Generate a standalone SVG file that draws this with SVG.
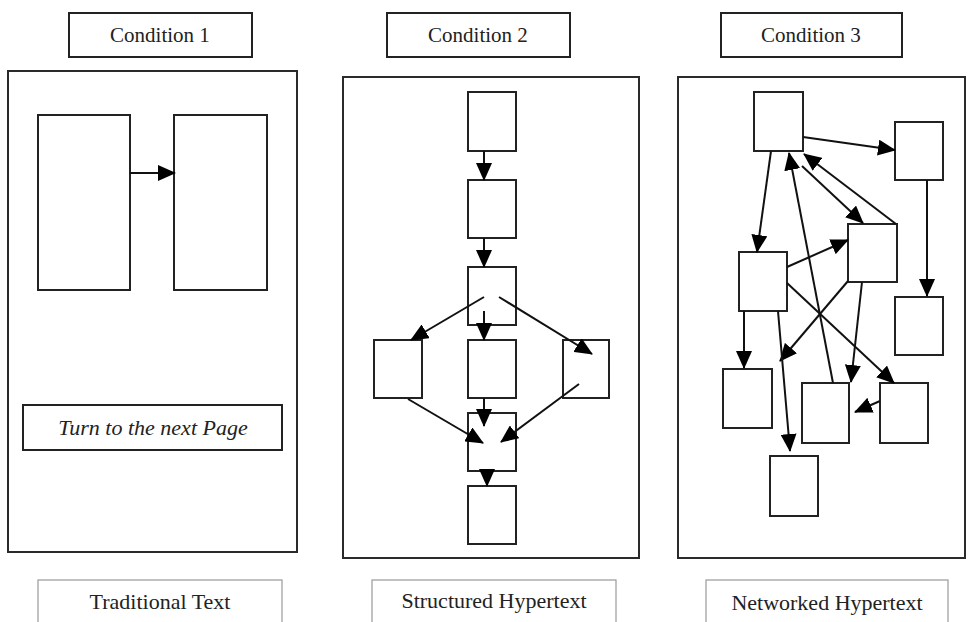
<svg xmlns="http://www.w3.org/2000/svg" width="968" height="622" viewBox="0 0 968 622">
<style>
.frame{fill:#fff;stroke:#2a2a2a;stroke-width:2}
.box{fill:#fff;stroke:#222;stroke-width:2}
.lbl{fill:#fff;stroke:#999;stroke-width:1.2}
.t{font-family:"Liberation Serif","Times New Roman",serif;font-size:21px;fill:#222;text-anchor:middle}
.t2{font-family:"Liberation Serif","Times New Roman",serif;font-size:22px;fill:#222;text-anchor:middle}
.it{font-style:italic}
.c line{stroke:#111;stroke-width:2;marker-end:url(#ah)}
</style>
<defs>
<marker id="ah" markerUnits="userSpaceOnUse" markerWidth="18" markerHeight="16" refX="17" refY="8" orient="auto">
<path d="M0,0 L18,8 L0,16 z" fill="#000"/>
</marker>
</defs>
<rect width="968" height="622" fill="#fff"/>

<g id="cond1"><rect class="box" x="69" y="13" width="183" height="44"/><text class="t" x="160" y="42">Condition 1</text></g>
<g id="cond2"><rect class="box" x="387" y="13" width="183" height="44"/><text class="t" x="478" y="42">Condition 2</text></g>
<g id="cond3"><rect class="box" x="721" y="13" width="181" height="44"/><text class="t" x="811" y="42">Condition 3</text></g>

<g id="panel1"><rect class="frame" x="8" y="71" width="289" height="481"/></g>
<g id="panel2"><rect class="frame" x="343" y="77" width="296" height="481"/></g>
<g id="panel3"><rect class="frame" x="678" y="77" width="287" height="481"/></g>

<g id="p1-left"><rect class="box" x="38" y="115" width="92" height="175"/></g>
<g id="p1-right"><rect class="box" x="174" y="115" width="93" height="175"/></g>
<g id="p1-turn"><rect class="box" x="23" y="405" width="259" height="45"/><text class="t2 it" x="153" y="435">Turn to the next Page</text></g>

<g id="p2-n1"><rect class="box" x="468" y="92" width="48" height="59"/></g>
<g id="p2-n2"><rect class="box" x="468" y="180" width="48" height="58"/></g>
<g id="p2-n3"><rect class="box" x="468" y="267" width="48" height="58"/></g>
<g id="p2-left"><rect class="box" x="374" y="340" width="48" height="58"/></g>
<g id="p2-mid"><rect class="box" x="468" y="340" width="48" height="58"/></g>
<g id="p2-right"><rect class="box" x="563" y="340" width="46" height="58"/></g>
<g id="p2-n5"><rect class="box" x="468" y="413" width="48" height="58"/></g>
<g id="p2-n6"><rect class="box" x="468" y="486" width="48" height="58"/></g>

<g id="p3-a"><rect class="box" x="754" y="92" width="49" height="59"/></g>
<g id="p3-b"><rect class="box" x="895" y="122" width="48" height="58"/></g>
<g id="p3-c"><rect class="box" x="848" y="224" width="49" height="58"/></g>
<g id="p3-d"><rect class="box" x="739" y="252" width="48" height="59"/></g>
<g id="p3-e"><rect class="box" x="895" y="297" width="48" height="58"/></g>
<g id="p3-f"><rect class="box" x="723" y="369" width="49" height="59"/></g>
<g id="p3-g"><rect class="box" x="802" y="383" width="47" height="60"/></g>
<g id="p3-h"><rect class="box" x="880" y="383" width="48" height="60"/></g>
<g id="p3-i"><rect class="box" x="770" y="456" width="48" height="60"/></g>

<g id="lbl1"><rect class="lbl" x="38" y="580" width="244" height="50"/><text class="t2" x="160" y="609">Traditional Text</text></g>
<g id="lbl2"><rect class="lbl" x="372" y="580" width="244" height="50"/><text class="t2" x="494" y="608">Structured Hypertext</text></g>
<g id="lbl3"><rect class="lbl" x="706" y="580" width="242" height="50"/><text class="t2" x="827" y="610">Networked Hypertext</text></g>

<g id="connectors" class="c">
<line x1="130" y1="173" x2="175" y2="173"/>

<line x1="484" y1="151" x2="484" y2="180"/>
<line x1="484" y1="238" x2="484" y2="267"/>
<line x1="484" y1="311" x2="484" y2="340"/>
<line x1="484" y1="297" x2="411" y2="340"/>
<line x1="499" y1="297" x2="592" y2="354"/>
<line x1="408" y1="399" x2="483" y2="443"/>
<line x1="484" y1="398" x2="484" y2="426"/>
<line x1="579" y1="384" x2="501" y2="442"/>
<line x1="487" y1="471" x2="487" y2="486"/>

<line x1="803" y1="137" x2="895" y2="150"/>
<line x1="771" y1="151" x2="757" y2="252"/>
<line x1="833" y1="383" x2="789" y2="153"/>
<line x1="802" y1="166" x2="863" y2="223"/>
<line x1="896" y1="224" x2="804" y2="154"/>
<line x1="927" y1="180" x2="927" y2="296"/>
<line x1="787" y1="267" x2="848" y2="240"/>
<line x1="787" y1="283" x2="894" y2="383"/>
<line x1="848" y1="281" x2="780" y2="361"/>
<line x1="862" y1="282" x2="851" y2="382"/>
<line x1="744" y1="311" x2="744" y2="368"/>
<line x1="778" y1="311" x2="790" y2="451"/>
<line x1="880" y1="401" x2="855" y2="412"/>
</g>
</svg>
